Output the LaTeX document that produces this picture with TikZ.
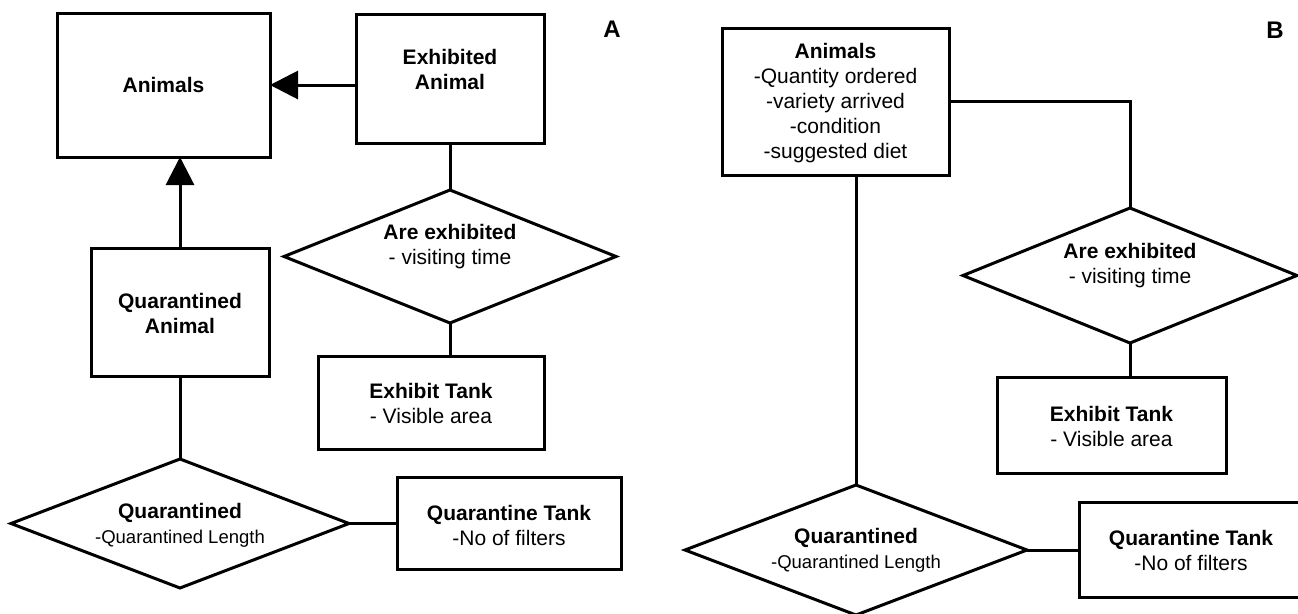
\documentclass[tikz,border=0pt]{standalone}
\usepackage{fontspec}
\setmainfont{Liberation Sans}
\usetikzlibrary{shapes.geometric,arrows.meta}
\begin{document}
\begin{tikzpicture}[x=1pt,y=-1pt,
  every node/.style={inner sep=0pt, outer sep=0pt},
  box/.style={draw, rectangle, line width=3pt},
  rel/.style={draw, diamond, line width=3pt},
  txt/.style={align=center, font=\fontsize{21}{25}\selectfont},
  sub/.style={font=\fontsize{18.5}{25}\selectfont},
  conn/.style={line width=3pt},
  isa/.style={conn, -{Triangle[length=28pt,width=28pt]}},
  panel/.style={font=\bfseries\fontsize{24}{28}\selectfont}
]
\clip (0,0) rectangle (1298,613);
\fill[white] (0,0) rectangle (1298,613);

% ---------- Panel A ----------
\node[box, minimum width=213pt, minimum height=144pt] (animA) at (163.5,85) {};
\node[txt] (animA-t) at (163.5,85) {\textbf{Animals}};

\node[box, minimum width=188pt, minimum height=129pt] (exA) at (450,78.5) {};
\node[txt] (exA-t) at (450,69) {\textbf{Exhibited}\\\textbf{Animal}};

\node[rel, minimum width=332pt, minimum height=133pt] (areA) at (450,256.5) {};
\node[txt] (areA-t) at (450,246.5) {\textbf{Are exhibited}\\- visiting time};

\node[box, minimum width=226pt, minimum height=93pt] (tankExA) at (431,402.5) {};
\node[txt] (tankExA-t) at (431,403) {\textbf{Exhibit Tank}\\- Visible area};

\node[box, minimum width=178pt, minimum height=128pt] (qaA) at (180,312) {};
\node[txt] (qaA-t) at (180,313) {\textbf{Quarantined}\\\textbf{Animal}};

\node[rel, minimum width=338pt, minimum height=129pt] (qA) at (180,523.5) {};
\node[txt] (qA-t) at (180,525) {\textbf{Quarantined}\\{\fontsize{18.5}{25}\selectfont -Quarantined Length}};

\node[box, minimum width=224pt, minimum height=92pt] (qtA) at (509,523.5) {};
\node[txt] (qtA-t) at (509,525) {\textbf{Quarantine Tank}\\-No of filters};

\node[panel] (labA) at (612,29) {A};

\draw[isa] (exA.west |- animA.east) -- (animA.east);
\draw[isa] (qaA.north) -- (qaA.north |- animA.south);
\draw[conn] (exA.south) -- (areA.north);
\draw[conn] (areA.south) -- (areA.south |- tankExA.north);
\draw[conn] (qaA.south) -- (qA.north);
\draw[conn] (qA.east) -- (qtA.west);

% ---------- Panel B ----------
\node[box, minimum width=227pt, minimum height=147pt] (animB) at (835.5,101.5) {};
\node[txt] (animB-t) at (835.5,103) {\textbf{Animals}\\-Quantity ordered\\-variety arrived\\-condition\\-suggested diet};

\node[rel, minimum width=334pt, minimum height=135pt] (areB) at (1130,275.5) {};
\node[txt] (areB-t) at (1130,265.5) {\textbf{Are exhibited}\\- visiting time};

\node[box, minimum width=229pt, minimum height=96pt] (tankExB) at (1111.5,425) {};
\node[txt] (tankExB-t) at (1111.5,426) {\textbf{Exhibit Tank}\\- Visible area};

\node[rel, minimum width=342pt, minimum height=130pt] (qB) at (856,550) {};
\node[txt] (qB-t) at (856,550) {\textbf{Quarantined}\\{\fontsize{18.5}{25}\selectfont -Quarantined Length}};

\node[box, minimum width=224pt, minimum height=95pt] (qtB) at (1191,550) {};
\node[txt] (qtB-t) at (1191,550) {\textbf{Quarantine Tank}\\-No of filters};

\node[panel] (labB) at (1275,30) {B};

\draw[conn] (animB.east) -| (areB.north);
\draw[conn] (areB.south) -- (areB.south |- tankExB.north);
\draw[conn] (qB.north) -- (qB.north |- animB.south);
\draw[conn] (qB.east) -- (qtB.west);
\end{tikzpicture}
\end{document}
